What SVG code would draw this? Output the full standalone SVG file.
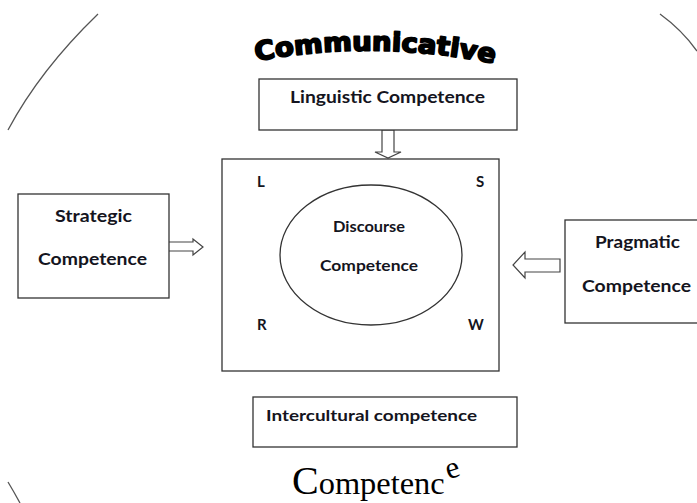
<svg xmlns="http://www.w3.org/2000/svg" width="697" height="503" viewBox="0 0 697 503">
  <style>
    .box { fill: #fff; stroke: #333; stroke-width: 1.3; }
    .arc { fill: none; stroke: #555; stroke-width: 1.3; }
    .blk { fill: #fff; stroke: #444; stroke-width: 1.2; stroke-linejoin: miter; }
    .lbl { font-family: Lato, "Liberation Sans", sans-serif; font-weight: bold; fill: #141420; }
    .big { font-size: 17px; }
    .sm { font-size: 15px; }
    .serif { font-family: "Liberation Serif", serif; fill: #000; }
  </style>
  <rect width="697" height="503" fill="#fff"/>

  <!-- outer circle fragments -->
  <g id="outer-ring">
    <path class="arc" d="M 98 14 Q 40 70 8 130"/>
    <path class="arc" d="M 660 14 Q 682 30 697 51"/>
    <path class="arc" d="M 8 482 Q 14 492 20 503"/>
  </g>

  <!-- arched heading on top -->
  <defs>
    <path id="topArc" d="M 256 61 Q 380 38 505 66"/>
  </defs>
  <g id="heading-top">
    <text font-family="'DejaVu Sans', sans-serif" font-weight="bold" font-size="26" fill="#000" stroke="#000" stroke-width="1.8" stroke-linejoin="round">
      <textPath href="#topArc" textLength="240" lengthAdjust="spacingAndGlyphs">Communicative</textPath>
    </text>
  </g>

  <!-- heading at the bottom: large initial, lifted final letter -->
  <g id="heading-bottom">
    <text class="serif" x="292" y="494" font-size="40">C<tspan font-size="31" textLength="126" lengthAdjust="spacingAndGlyphs">ompetenc</tspan></text>
    <text class="serif" x="446" y="477" font-size="31" transform="rotate(-18 455 470)">e</text>
  </g>

  <!-- connectors: block arrows -->
  <g id="connectors">
    <path class="blk" d="M 382 130 L 394 130 L 394 152 L 401 152 L 388 158 L 375 152 L 382 152 Z"/>
    <path class="blk" d="M 167 242 L 193 242 L 193 239 L 203 247 L 193 255 L 193 251 L 167 251 Z"/>
    <path class="blk" d="M 560 259 L 525 259 L 525 252 L 513 265 L 525 278 L 525 272 L 560 272 Z"/>
  </g>

  <g id="linguistic">
    <rect class="box" x="259" y="79" width="258" height="51"/>
    <text class="lbl big" x="290" y="103" textLength="195" lengthAdjust="spacingAndGlyphs">Linguistic Competence</text>
  </g>

  <g id="strategic">
    <rect class="box" x="18" y="194" width="151" height="104"/>
    <text class="lbl big" x="55" y="222" textLength="77" lengthAdjust="spacingAndGlyphs">Strategic</text>
    <text class="lbl big" x="38" y="265" textLength="109" lengthAdjust="spacingAndGlyphs">Competence</text>
  </g>

  <g id="pragmatic">
    <rect class="box" x="565" y="220" width="140" height="103"/>
    <text class="lbl big" x="595" y="248" textLength="85" lengthAdjust="spacingAndGlyphs">Pragmatic</text>
    <text class="lbl big" x="582" y="292" textLength="109" lengthAdjust="spacingAndGlyphs">Competence</text>
  </g>

  <g id="skills">
    <rect class="box" x="222" y="159" width="277" height="212"/>
    <text class="lbl sm" x="257" y="187">L</text>
    <text class="lbl sm" x="476" y="187">S</text>
    <text class="lbl sm" x="257" y="330">R</text>
    <text class="lbl sm" x="468" y="330">W</text>
  </g>

  <g id="discourse">
    <ellipse class="box" cx="371" cy="255" rx="91" ry="70"/>
    <text class="lbl sm" x="333" y="232" textLength="72" lengthAdjust="spacingAndGlyphs">Discourse</text>
    <text class="lbl sm" x="320" y="271" textLength="98" lengthAdjust="spacingAndGlyphs">Competence</text>
  </g>

  <g id="intercultural">
    <rect class="box" x="253" y="397" width="264" height="50"/>
    <text class="lbl sm" x="266" y="421" textLength="211" lengthAdjust="spacingAndGlyphs">Intercultural competence</text>
  </g>
</svg>
